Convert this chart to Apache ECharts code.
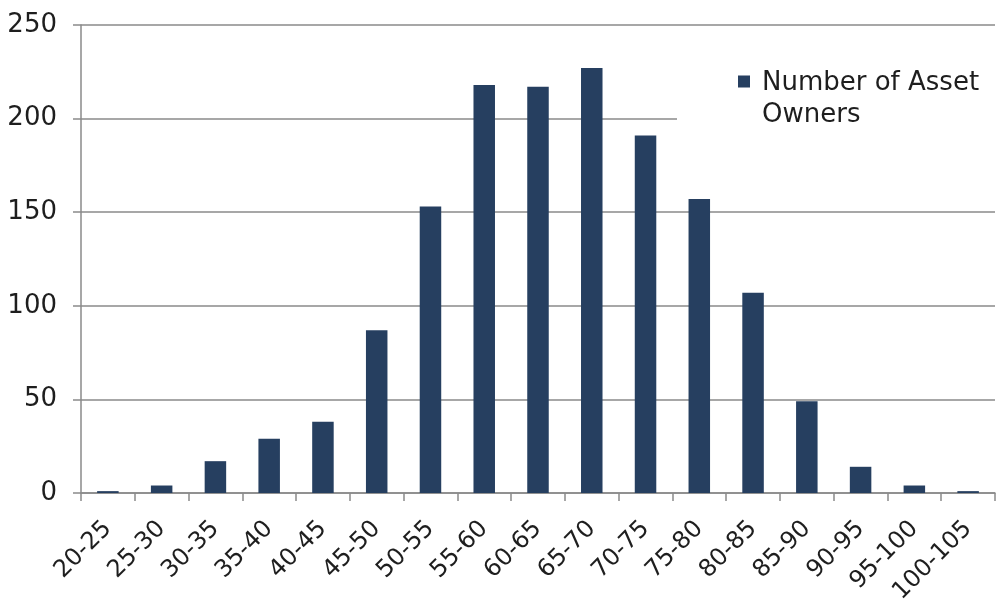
<!DOCTYPE html>
<html>
<head>
<meta charset="utf-8">
<script src="https://cdn.jsdelivr.net/npm/echarts@6/dist/echarts.min.js"></script>
<style>
  html, body { margin: 0; padding: 0; background: #fff; }
  #chart { width: 996px; height: 603px; }
</style>
</head>
<body>
<div id="chart"></div>
<script>
// Age bands of asset owners
const categories = ['20-25', '25-30', '30-35', '35-40', '40-45', '45-50', '50-55', '55-60',
  '60-65', '65-70', '70-75', '75-80', '80-85', '85-90', '90-95', '95-100', '100-105'];
// Number of asset owners in each band
const owners = [1, 4, 17, 29, 38, 87, 153, 218, 217, 227, 191, 157, 107, 49, 14, 4, 1];
// Value axis ticks
const yMin = 0, yMax = 250, yStep = 50;
const seriesName = 'Number of Asset\nOwners';

const axisGray = '#8a8a8a';
const textColor = '#1e1e1e';
const fontFamily = '"DejaVu Sans", "Liberation Sans", Arial, sans-serif';

// Legend swatch: a 12px square at the top of a taller icon box, so it sits
// beside the first line of the two-line legend text.
const swatchIcon = 'path://M0,0H12V12H0Z M11.99,46.99H12V47H11.99Z';

const chart = echarts.init(document.getElementById('chart'), null, { renderer: 'canvas' });
chart.setOption({
  animation: false,
  backgroundColor: '#ffffff',
  grid: { left: 81, right: 1, top: 25, bottom: 110, containLabel: false, outerBoundsMode: 'none' },
  legend: {
    show: true,
    left: 677,
    top: 47,
    padding: [20, 40, 8, 61],
    backgroundColor: '#ffffff',
    itemWidth: 12,
    itemHeight: 47,
    itemGap: 0,
    icon: swatchIcon,
    textStyle: {
      fontFamily, fontSize: 26, color: textColor,
      lineHeight: 32, padding: [0, 0, 0, 7]
    },
    data: [seriesName]
  },
  xAxis: {
    type: 'category',
    data: categories,
    boundaryGap: true,
    axisLine: { show: true, lineStyle: { color: axisGray, width: 1.5 } },
    axisTick: { show: true, length: 8, lineStyle: { color: axisGray, width: 1.5 } },
    axisLabel: {
      interval: 0,
      rotate: 45,
      margin: 32,
      fontFamily,
      fontSize: 24,
      color: textColor
    },
    splitLine: { show: false }
  },
  yAxis: {
    type: 'value',
    min: yMin,
    max: yMax,
    interval: yStep,
    axisLine: { show: true, lineStyle: { color: axisGray, width: 1.5 } },
    axisTick: { show: true, length: 8, lineStyle: { color: axisGray, width: 1.5 } },
    axisLabel: { margin: 24, fontFamily, fontSize: 26, color: textColor },
    splitLine: { show: true, lineStyle: { color: axisGray, width: 1.5 } }
  },
  series: [{
    name: seriesName,
    type: 'bar',
    data: owners,
    barCategoryGap: '60%',
    itemStyle: { color: '#263f60' }
  }]
});
</script>
</body>
</html>
